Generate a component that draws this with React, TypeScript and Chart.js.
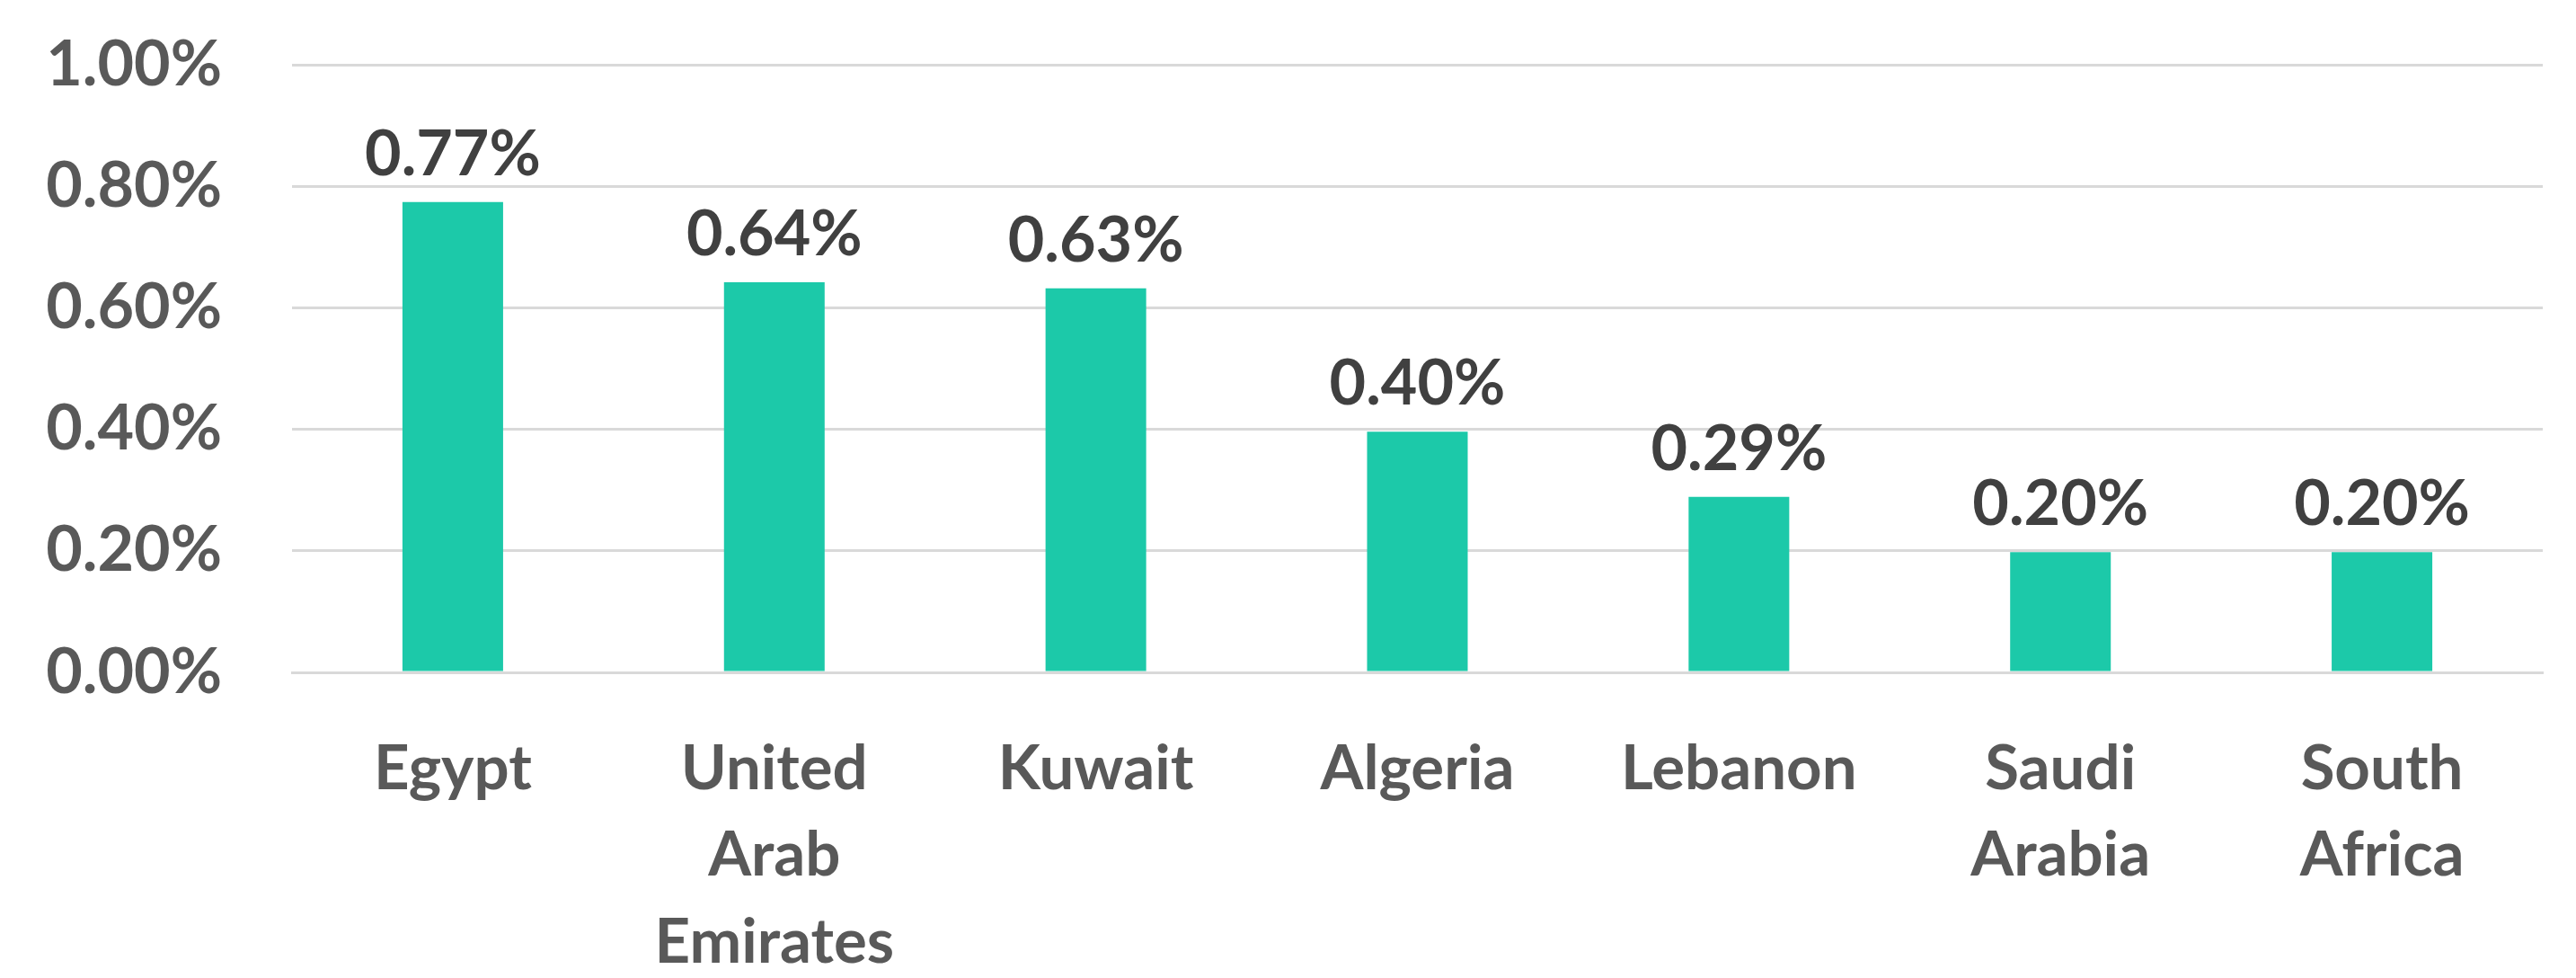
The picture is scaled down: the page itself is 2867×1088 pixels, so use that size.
import React, { useEffect, useRef } from "react";
import { Chart, registerables } from "chart.js";

Chart.register(...registerables);

const categories: (string | string[])[] = [
  "Egypt",
  ["United", "Arab", "Emirates"],
  "Kuwait",
  "Algeria",
  "Lebanon",
  ["Saudi", "Arabia"],
  ["South", "Africa"],
];
const values: number[] = [0.774, 0.642, 0.632, 0.396, 0.289, 0.198, 0.198];
const valueLabels: string[] = ["0.77%", "0.64%", "0.63%", "0.40%", "0.29%", "0.20%", "0.20%"];
const yTicks: number[] = [0, 0.2, 0.4, 0.6, 0.8, 1.0];

const FONT = "Lato, 'Open Sans', sans-serif";

const dataLabelPlugin = {
  id: "dataLabels",
  afterDatasetsDraw(chart: any) {
    const ctx = chart.ctx;
    const meta = chart.getDatasetMeta(0);
    ctx.save();
    ctx.font = `bold 70px ${FONT}`;
    ctx.fillStyle = "#404040";
    ctx.textAlign = "center";
    ctx.textBaseline = "alphabetic";
    meta.data.forEach((bar: any, i: number) => {
      ctx.fillText(valueLabels[i], bar.x, bar.y - 30);
    });
    ctx.restore();
  },
};

export default function App() {
  const ref = useRef<HTMLCanvasElement | null>(null);
  useEffect(() => {
    if (!ref.current) return;
    const chart = new Chart(ref.current, {
      type: "bar",
      data: {
        labels: categories,
        datasets: [
          {
            data: values,
            backgroundColor: "#1CC9A9",
            borderWidth: 0,
            categoryPercentage: 1,
            barPercentage: 0.313,
          },
        ],
      },
      options: {
        animation: false,
        responsive: false,
        maintainAspectRatio: false,
        layout: { padding: { top: 72, right: 37, bottom: 0, left: 0 } },
        plugins: {
          legend: { display: false },
          tooltip: { enabled: false },
        },
        scales: {
          x: {
            grid: { display: false, drawTicks: false },
            border: { display: true, color: "#d9d9d9", width: 3 },
            ticks: {
              color: "#595959",
              font: { family: FONT, weight: "bold", size: 69, lineHeight: 1.4 },
              padding: 59,
              maxRotation: 0,
              autoSkip: false,
            },
            afterFit: (scale: any) => {
              scale.height = 340;
            },
          },
          y: {
            min: 0,
            max: 1.0,
            afterBuildTicks: (scale: any) => {
              scale.ticks = yTicks.map((v) => ({ value: v }));
            },
            grid: {
              color: "#d9d9d9",
              lineWidth: 3,
              drawTicks: true,
              tickLength: 78,
              tickColor: "rgba(0,0,0,0)",
            },
            border: { display: false },
            ticks: {
              color: "#595959",
              font: { family: FONT, weight: "bold", size: 70 },
              padding: 0,
              callback: (v: any) => Number(v).toFixed(2) + "%",
            },
            afterFit: (scale: any) => {
              scale.width = 325;
            },
          },
        },
      },
      plugins: [dataLabelPlugin],
    });
    return () => chart.destroy();
  }, []);
  return (
    <div style={{ position: "fixed", left: 0, top: 0, width: 2867, height: 1088, background: "#fff" }}>
      <canvas ref={ref} width={2867} height={1088} style={{ width: 2867, height: 1088, display: "block" }} />
    </div>
  );
}
